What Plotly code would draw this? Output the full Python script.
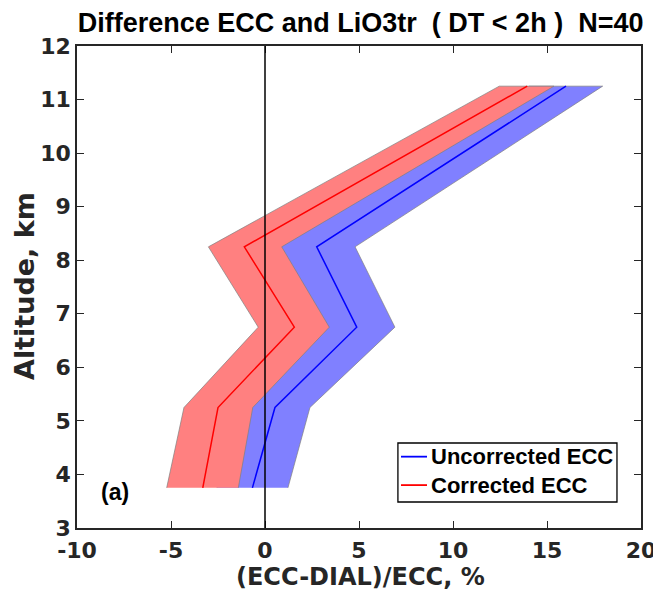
import plotly.graph_objects as go

# ---- data ----
altitude_km = [3.75, 5.25, 6.75, 8.25, 11.25]

uncorr_mean = [-0.67, 0.53, 4.88, 2.75, 16.01]
uncorr_lower = [-2.56, -1.33, 2.85, 0.71, 14.06]
uncorr_upper = [1.22, 2.39, 6.91, 4.79, 17.96]

corr_mean = [-3.31, -2.50, 1.56, -1.10, 13.95]
corr_lower = [-5.23, -4.31, -0.36, -3.01, 12.46]
corr_upper = [-1.42, -0.65, 3.42, 0.89, 15.37]

series_names = ["Uncorrected ECC", "Corrected ECC"]
line_colors = ["#0000FF", "#FF0000"]
band_colors = ["#8080FF", "#FF8080"]

x_ticks = [-10, -5, 0, 5, 10, 15, 20]
y_ticks = [3, 4, 5, 6, 7, 8, 9, 10, 11, 12]

TXT = "#262626"
FONT = "Liberation Sans"
FONT2 = "DejaVu Sans"

fig = go.Figure()

def band(lower, upper, color):
    return go.Scatter(
        x=list(lower) + list(upper)[::-1],
        y=list(altitude_km) + list(altitude_km)[::-1],
        fill="toself", fillcolor=color, mode="lines",
        line=dict(color="#7f7f7f", width=0.7),
        showlegend=False, hoverinfo="skip")

fig.add_trace(band(uncorr_lower, uncorr_upper, band_colors[0]))
fig.add_trace(band(corr_lower, corr_upper, band_colors[1]))

fig.add_trace(go.Scatter(x=uncorr_mean, y=altitude_km, mode="lines",
                         line=dict(color=line_colors[0], width=1.5),
                         name=series_names[0], showlegend=False))
fig.add_trace(go.Scatter(x=corr_mean, y=altitude_km, mode="lines",
                         line=dict(color=line_colors[1], width=1.5),
                         name=series_names[1], showlegend=False))

fig.add_shape(type="line", x0=0, x1=0, y0=0, y1=1, xref="x", yref="paper",
              line=dict(color="black", width=1.5))

fig.add_annotation(x=-8.0, y=3.67, text="<b>(a)</b>", showarrow=False,
                   font=dict(family=FONT, size=23, color="black"))

# legend box (drawn by hand to match the short legend lines)
fig.add_shape(type="rect", xref="paper", yref="paper",
              x0=0.569, x1=0.9574, y0=0.0539, y1=0.1763,
              fillcolor="white", line=dict(color="black", width=1.3),
              layer="above")
leg_y = [0.148, 0.089]
for name, col, yy in zip(series_names, line_colors, leg_y):
    fig.add_shape(type="line", xref="paper", yref="paper",
                  x0=0.5745, x1=0.6206, y0=yy, y1=yy,
                  line=dict(color=col, width=1.8), layer="above")
    fig.add_annotation(xref="paper", yref="paper", x=0.6245, y=yy,
                       xanchor="left", yanchor="middle", showarrow=False,
                       text=f"<b>{name}</b>",
                       font=dict(family=FONT, size=22, color="black"))

# axis titles
fig.add_annotation(xref="paper", yref="paper", x=0.502, y=-0.102,
                   xanchor="center", yanchor="middle", showarrow=False,
                   text="<b>(ECC-DIAL)/ECC, %</b>",
                   font=dict(family=FONT2, size=24, color=TXT))
fig.add_annotation(xref="paper", yref="paper", x=-0.094, y=0.502,
                   xanchor="center", yanchor="middle", showarrow=False,
                   textangle=-90, text="<b>Altitude, km</b>",
                   font=dict(family=FONT2, size=27, color=TXT))

nb = "\u00a0"
title = f"Difference ECC and LiO3tr {nb}( DT < 2h ) {nb}N=40"

fig.update_layout(
    width=653, height=590,
    paper_bgcolor="white", plot_bgcolor="white",
    showlegend=False,
    margin=dict(l=69, r=20, t=38, b=70),
    title=dict(text=f"<b>{title}</b>", x=0.54, xanchor="center",
               y=0.976, yanchor="middle", automargin=False,
               font=dict(family=FONT, size=27, color="black")),
    xaxis=dict(range=[-10, 20], tickvals=x_ticks,
               ticktext=[f"<b>{v}</b>" for v in x_ticks],
               ticks="inside", ticklen=7, tickwidth=1.2, tickcolor=TXT,
               mirror="ticks", showline=True, linecolor=TXT, linewidth=1.5,
               showgrid=False, zeroline=False, automargin=False,
               ticklabelstandoff=2,
               tickfont=dict(family=FONT2, size=22, color=TXT)),
    yaxis=dict(range=[3, 12], tickvals=y_ticks,
               ticktext=[f"<b>{v}</b>" for v in y_ticks],
               ticks="inside", ticklen=7, tickwidth=1.2, tickcolor=TXT,
               mirror="ticks", showline=True, linecolor=TXT, linewidth=1.5,
               showgrid=False, zeroline=False, automargin=False,
               tickfont=dict(family=FONT2, size=22, color=TXT)),
)

fig.write_html("out.html")
